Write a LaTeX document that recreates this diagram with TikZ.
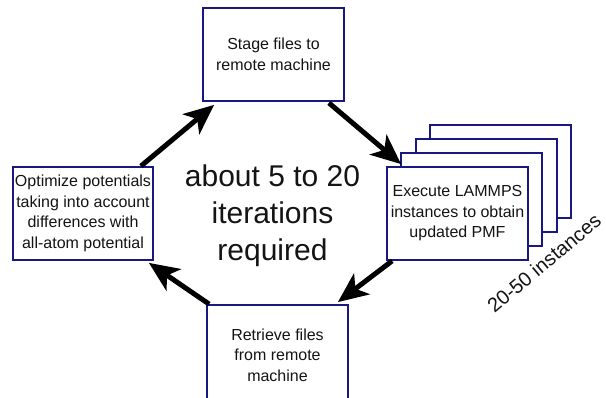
\documentclass[tikz,border=0pt]{standalone}
\usepackage{fontspec}
\setmainfont{Liberation Sans}
\usetikzlibrary{arrows.meta,calc}
\definecolor{boxblue}{RGB}{24,24,128}
\definecolor{ink}{RGB}{20,20,20}
\begin{document}
\begin{tikzpicture}[x=1pt,y=-1pt,
  taskbox/.style={draw=boxblue, line width=1.8pt, fill=white, text=ink,
    minimum width=141pt, minimum height=93pt, inner sep=0pt, align=center,
    font=\fontsize{16}{20.5}\selectfont},
  flow/.style={line width=5pt, -{Stealth[length=30pt,width=26pt,inset=8pt]}}]
\useasboundingbox (0,0) rectangle (606,398);

% stacked copies behind the LAMMPS box
\node[taskbox] (stackc) at (500.4,171.5) {};
\node[taskbox] (stackb) at (486.1,185.5) {};
\node[taskbox] (stacka) at (471.8,199.5) {};

% process steps
\node[taskbox] (stage) at (273.5,54.5) {Stage files to\\remote machine};
\node[taskbox] (exec) at (457.5,213.5) {Execute LAMMPS\\instances to obtain\\updated PMF};
\node[taskbox, minimum height=100pt] (retrieve) at (277.5,355) {Retrieve files\\from remote\\machine};
\node[taskbox, minimum width=140pt] (opt) at (83,213.5) {Optimize potentials\\taking into account\\differences with\\all-atom potential};

% loop label
\node[text=ink, align=center, inner sep=0pt, font=\fontsize{30}{37}\selectfont]
  (iter) at (272.5,215.5) {about 5 to 20\\iterations\\required};

% number of parallel runs
\node[text=ink, inner sep=0pt, rotate=40, font=\fontsize{20}{24}\selectfont]
  (count) at (544,263) {20-50 instances};

% cycle connectors
\draw[flow] ($(opt.north east)+(-13,0)$) -- ($(stage.south west)+(12,3)$);
\draw[flow] ($(stage.south east)+(-16,1)$) -- ($(exec.north west)+(15,-2)$);
\draw[flow] ($(exec.south west)+(6,0)$) -- ($(retrieve.north east)+(-11,-2)$);
\draw[flow] ($(retrieve.north west)+(3,0)$) -- ($(opt.south east)+(-5,2)$);
\end{tikzpicture}
\end{document}
